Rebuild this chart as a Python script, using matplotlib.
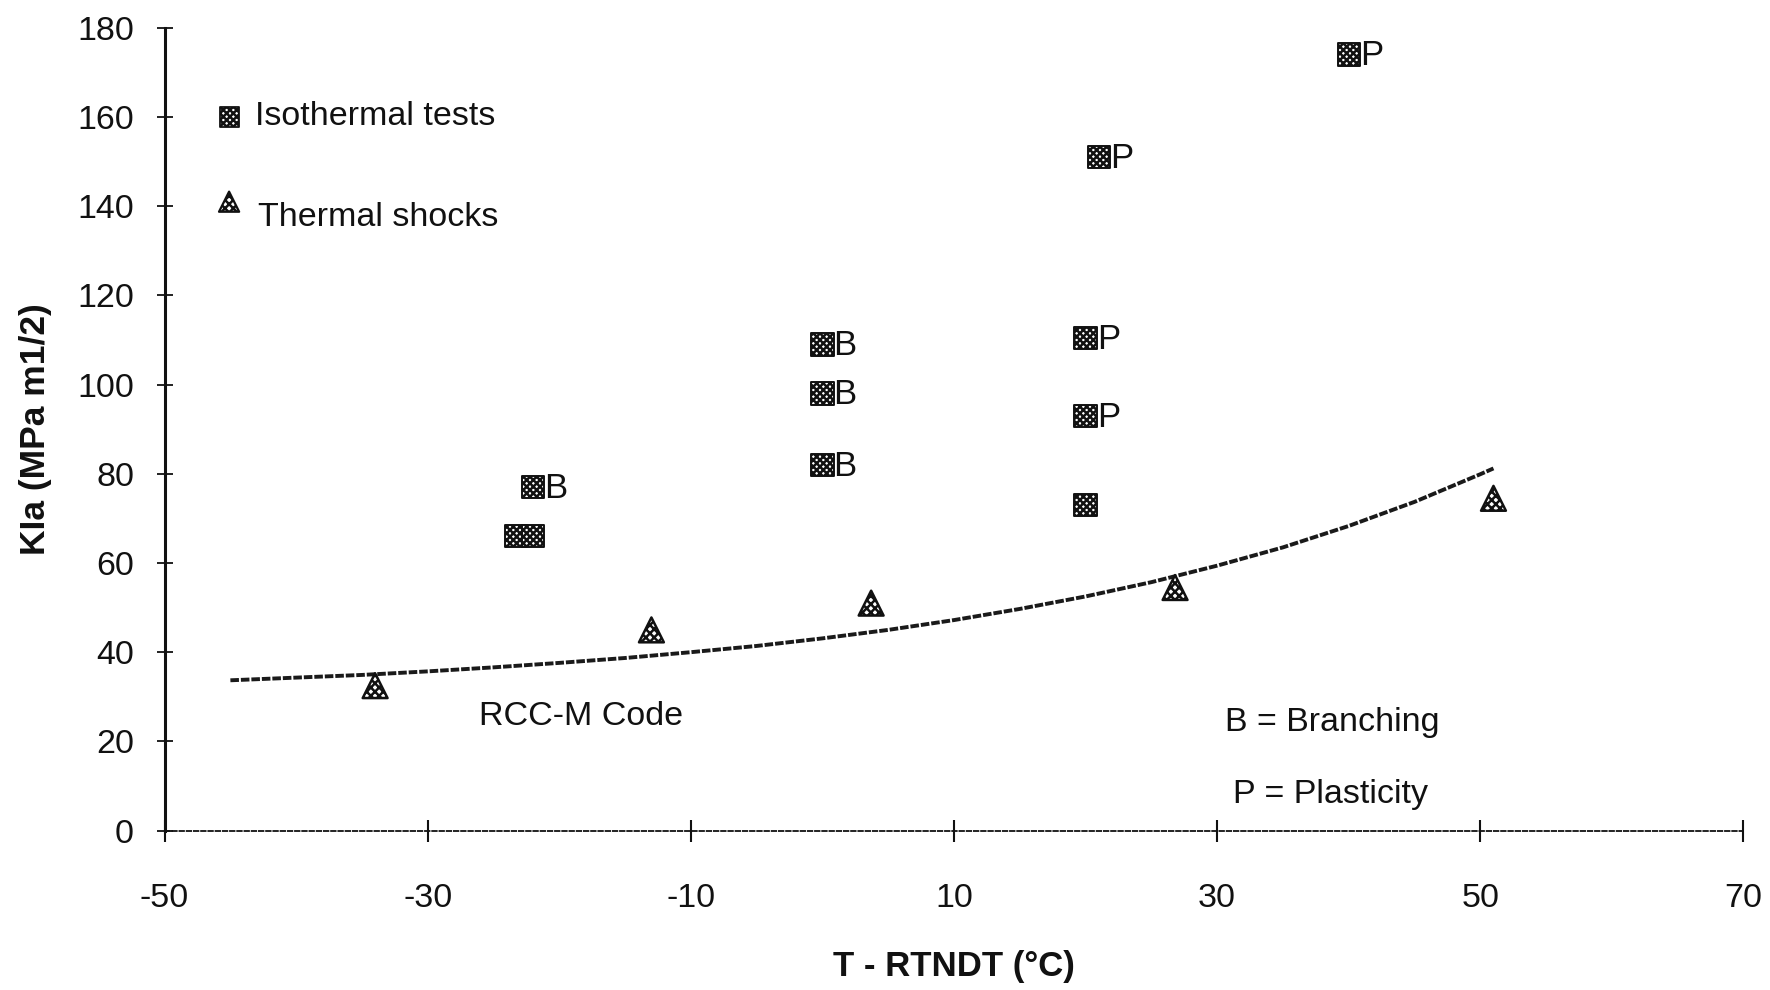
import matplotlib
matplotlib.use("Agg")
import matplotlib.pyplot as plt

plt.rcParams['font.family'] = ['Liberation Sans', 'DejaVu Sans']
plt.rcParams['hatch.linewidth'] = 1.8

# Isothermal tests (square markers)
iso_x = [40, 21, 20, 20, 20, 0, 0, 0, -22, -23.3, -22]
iso_y = [174, 151, 110.5, 93, 73, 109, 98, 82, 77, 66, 66]
iso_lbl = ['P', 'P', 'P', 'P', '', 'B', 'B', 'B', 'B', '', '']

# Thermal shocks (triangle markers)
ts_x = [-34, -13, 3.7, 26.8, 51]
ts_y = [32.5, 45, 51, 54.5, 74.5]

# RCC-M code curve
code_x = [-45, -40, -35, -30, -25, -20, -15, -10, -5, 0, 5, 10, 15, 20, 25, 30, 35, 40, 45, 50, 51]
code_y = [33.7, 34.3, 34.9, 35.7, 36.6, 37.6, 38.7, 40.0, 41.4, 43.1, 45.0, 47.2, 49.7,
          52.5, 55.7, 59.4, 63.5, 68.3, 73.7, 79.9, 81.2]

xticks = [-50, -30, -10, 10, 30, 50, 70]
yticks = [0, 20, 40, 60, 80, 100, 120, 140, 160, 180]

fig = plt.figure(figsize=(17.7, 9.9), dpi=100)
ax = fig.add_axes([0.093, 0.161, 0.892, 0.811])
ax.set_xlim(-50, 70)
ax.set_ylim(0, 180)

ink = '#111111'
ax.plot(code_x, code_y, color='#1a1a1a', lw=2.8, linestyle=(0, (2.2, 0.5)), zorder=2)

ax.scatter(iso_x, iso_y, marker='s', s=260, facecolor='white', edgecolor=ink,
           hatch='xxxxx', linewidth=1.4, zorder=3)
ax.scatter(ts_x, ts_y, marker='^', s=320, facecolor='white', edgecolor=ink,
           hatch='xxxx', linewidth=1.8, zorder=3)

for x, y, t in zip(iso_x, iso_y, iso_lbl):
    if t:
        ax.annotate(t, (x, y), xytext=(8, -1), textcoords='offset points',
                    ha='left', va='center', fontsize=25, color=ink)

# legend-like entries
ax.scatter([-45.1], [160], marker='s', s=190, facecolor='white', edgecolor=ink,
           hatch='xxxxx', linewidth=1.3, zorder=3, clip_on=False)
ax.scatter([-45.1], [141], marker='^', s=210, facecolor='white', edgecolor=ink,
           hatch='xxxx', linewidth=1.6, zorder=3, clip_on=False)
ax.text(-43.1, 160, 'Isothermal tests', fontsize=24.5, va='center', ha='left', color=ink)
ax.text(-42.9, 137.5, 'Thermal shocks', fontsize=24.5, va='center', ha='left', color=ink)

ax.text(-26.1, 25.5, 'RCC-M Code', fontsize=24.5, va='center', ha='left', color=ink)
ax.text(30.6, 24.2, 'B = Branching', fontsize=24.5, va='center', ha='left', color=ink)
ax.text(31.2, 8.0, 'P = Plasticity', fontsize=24.5, va='center', ha='left', color=ink)

ax.set_xticks(xticks)
ax.set_yticks(yticks)
ax.set_xticklabels([str(v) for v in xticks])
ax.set_yticklabels([str(v) for v in yticks])
ax.tick_params(axis='x', direction='inout', length=16, width=1.5, pad=30,
               labelsize=24.5, colors=ink)
ax.tick_params(axis='y', direction='inout', length=12, width=1.3, pad=16,
               labelsize=24.5, colors=ink)

for s in ['top', 'right']:
    ax.spines[s].set_visible(False)
ax.spines['left'].set_linewidth(2.2)
ax.spines['left'].set_color(ink)
ax.spines['bottom'].set_linewidth(1.3)
ax.spines['bottom'].set_linestyle((0, (2.5, 1.5)))
ax.spines['bottom'].set_color(ink)

ax.set_xlabel('T - RTNDT (°C)', fontsize=25, fontweight='bold', labelpad=26, color=ink)
ax.set_ylabel('KIa (MPa m1/2)', fontsize=25.5, fontweight='bold', labelpad=18, color=ink)

fig.savefig('out.png', dpi=100, facecolor='white')
